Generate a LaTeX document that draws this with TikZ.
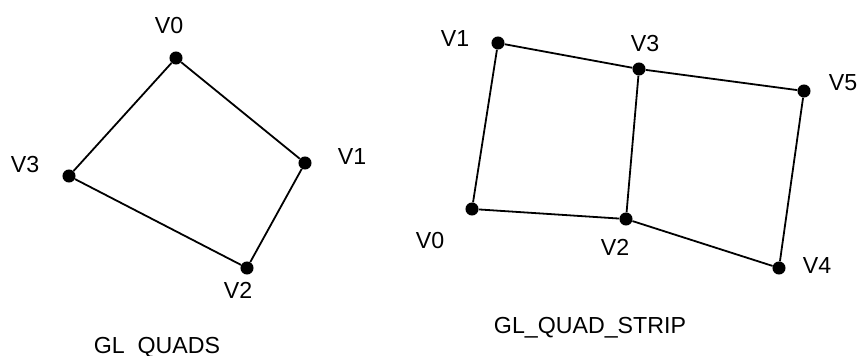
\documentclass[tikz,border=0pt]{standalone}
\usepackage{fontspec}
\setmainfont{Liberation Sans}
\usetikzlibrary{positioning}
\tikzset{
  vtx/.style={circle, fill=black, inner sep=0pt, minimum size=9.8pt},
  vlabel/.style={anchor=base, inner sep=0pt, font=\fontsize{17.4}{21}\selectfont},
  caption/.style={anchor=base, inner sep=0pt, font=\fontsize{17.4}{21}\selectfont},
  edge/.style={draw, line width=1.35pt},
}
\begin{document}
\begin{tikzpicture}[x=0.75pt, y=-0.75pt]
\useasboundingbox (0,0) rectangle (861,356);

% GL_QUADS vertices
\node[vtx] (q0) at (176,58) {};
\node[vtx] (q1) at (305,163) {};
\node[vtx] (q2) at (247,268) {};
\node[vtx] (q3) at (69,176) {};

\node[vlabel] (q0-lbl) at (169,34) {V0};
\node[vlabel] (q1-lbl) at (352,165) {V1};
\node[vlabel] (q2-lbl) at (238,298) {V2};
\node[vlabel] (q3-lbl) at (25,173) {V3};

\draw[edge] (q0) -- (q1) -- (q2) -- (q3) -- (q0);

\node[caption] (quads) at (157,353) {GL\ \ QUADS};

% GL_QUAD_STRIP vertices
\node[vtx] (s0) at (472,209) {};
\node[vtx] (s1) at (498,43) {};
\node[vtx] (s2) at (626,219) {};
\node[vtx] (s3) at (639,69) {};
\node[vtx] (s4) at (779,268) {};
\node[vtx] (s5) at (804,91) {};

\node[vlabel] (s0-lbl) at (430,248) {V0};
\node[vlabel] (s1-lbl) at (455,47) {V1};
\node[vlabel] (s2-lbl) at (615,256) {V2};
\node[vlabel] (s3-lbl) at (645,52) {V3};
\node[vlabel] (s4-lbl) at (817,273) {V4};
\node[vlabel] (s5-lbl) at (843,91) {V5};

\draw[edge] (s0) -- (s1) -- (s3) -- (s5) -- (s4) -- (s2) -- (s0);
\draw[edge] (s2) -- (s3);

\node[caption] (strip) at (590,333) {GL\_QUAD\_STRIP};

\end{tikzpicture}
\end{document}
